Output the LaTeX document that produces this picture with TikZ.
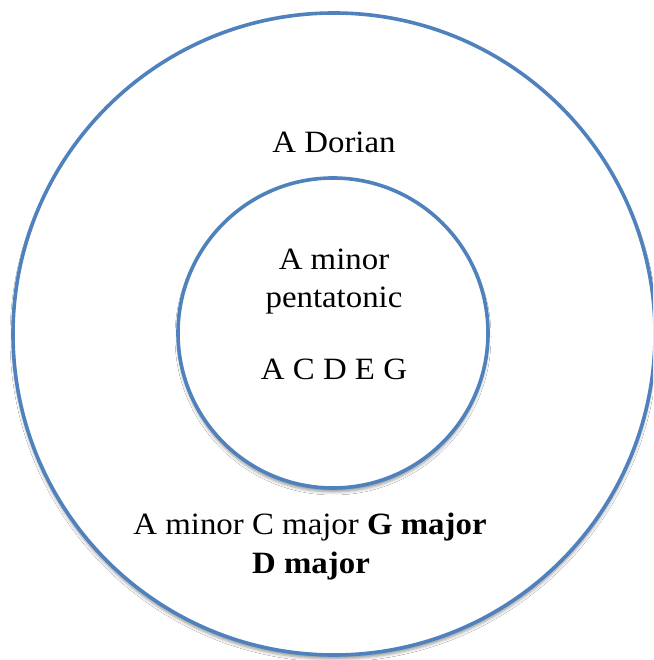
\documentclass[tikz,border=0pt]{standalone}
\usepackage{fontspec}
\setmainfont{Liberation Serif}[FakeStretch=1.06]
\usetikzlibrary{shadows.blur}
\definecolor{ringblue}{RGB}{79,129,189}
\begin{document}
\begin{tikzpicture}[x=1pt,y=1pt,
  ring/.style={circle, draw=ringblue, line width=3.6pt, fill=white, inner sep=0pt,
    blur shadow={shadow xshift=0pt, shadow yshift=-4pt, shadow blur radius=3pt, shadow opacity=40}},
  lbl/.style={font=\fontsize{31}{40}\selectfont, align=center, inner sep=0pt, text=black}
]
\useasboundingbox (0,0) rectangle (653,660);
\clip (0,0) rectangle (653,660);
\fill[white] (0,0) rectangle (653,660);
\node[ring, minimum size=642pt] (outer) at (334,326) {};
\node[ring, minimum size=310pt] (inner) at (333,327) {};
\node[lbl, anchor=base] (dorian) at (334,507) {A Dorian};
\node[lbl, anchor=base] (minor) at (334,390) {A minor};
\node[lbl, anchor=base] (penta) at (334,352) {pentatonic};
\node[lbl, anchor=base] (notes) at (334,280) {A C D E G};
\node[lbl, anchor=base] (keys1) at (310,125) {A minor C major \textbf{G major}};
\node[lbl, anchor=base] (keys2) at (311,86) {\textbf{D major}};
\end{tikzpicture}
\end{document}
